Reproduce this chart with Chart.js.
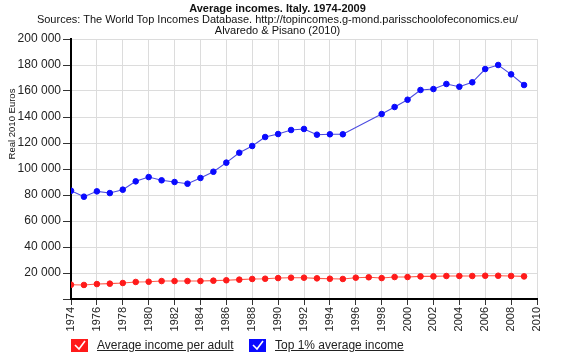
<!DOCTYPE html>
<html><head><meta charset="utf-8">
<script src="https://cdn.jsdelivr.net/npm/chart.js@4"></script>
<style>
html,body{margin:0;padding:0;background:#fff;}
#wrap{position:relative;width:573px;height:360px;font-family:"Liberation Sans",Arial,sans-serif;}
#c{position:absolute;left:0;top:0;}
.t{position:absolute;left:0;width:555px;text-align:center;color:#111;white-space:nowrap;}
#legend{position:absolute;top:337px;left:71px;font-size:12px;color:#222;}
.li{position:absolute;top:0;white-space:nowrap;}
.box{position:absolute;top:2px;width:17px;height:13px;}
.lt{position:absolute;top:1px;text-decoration:underline;}
</style></head>
<body>
<div id="wrap">
<canvas id="c" width="573" height="360"></canvas>
<div class="t" style="top:2px;font-size:11px;font-weight:bold;">Average incomes. Italy. 1974-2009</div>
<div class="t" style="top:13px;font-size:11px;">Sources: The World Top Incomes Database. http://topincomes.g-mond.parisschoolofeconomics.eu/</div>
<div class="t" style="top:24px;font-size:11px;">Alvaredo &amp; Pisano (2010)</div>
<div id="legend"></div>
</div>
<script>
const years = [1974,1975,1976,1977,1978,1979,1980,1981,1982,1983,1984,1985,1986,1987,1988,1989,1990,1991,1992,1993,1994,1995,1996,1997,1998,1999,2000,2001,2002,2003,2004,2005,2006,2007,2008,2009];
const averageIncome = [11000,10800,11500,11800,12300,13100,13300,13800,13800,13800,13800,14100,14400,14900,15400,15600,16100,16400,16400,15900,15600,15400,16400,16700,16100,16900,16900,17400,17400,17700,17700,17700,17900,17900,17700,17400];
const top1Income = [83300,78700,82800,81500,84100,90500,93800,91300,90000,88700,93100,97900,104900,112500,117700,124600,126900,130000,130800,126400,126700,126700,null,null,142300,147700,153300,160800,161500,165400,163300,166700,176900,180000,172800,164600];
const seriesNames = ["Average income per adult","Top 1% average income"];
const seriesColors = ["#ff1a1a","#0a0aff"];
const lineColors = ["#ff5a4a","#4a4ae0"];
const yTicksMax = 200000, yStep = 20000, xMin = 1974, xMax = 2010, xStep = 2;

function toXY(vals){ return years.map((y,i)=>({x:y,y:vals[i]})); }
function fmt(v){ return String(v).replace(/\B(?=(\d{3})+(?!\d))/g,' '); }

const yTitle = {
  id:'yTitle',
  afterDraw(chart){
    const ctx = chart.ctx;
    ctx.save();
    ctx.translate(12,124);
    ctx.rotate(-Math.PI/2);
    ctx.font = '9.5px "Liberation Sans", Arial, sans-serif';
    ctx.fillStyle = '#111';
    ctx.textAlign = 'center';
    ctx.textBaseline = 'middle';
    ctx.fillText('Real 2010 Euros',0,0);
    ctx.restore();
  }
};

new Chart(document.getElementById('c'), {
  type:'line',
  data:{datasets:[
    {label:seriesNames[0],data:toXY(averageIncome),borderColor:lineColors[0],backgroundColor:seriesColors[0],pointBackgroundColor:seriesColors[0],pointBorderColor:seriesColors[0],pointRadius:2.8,pointBorderWidth:1,borderWidth:1.1,spanGaps:true},
    {label:seriesNames[1],data:toXY(top1Income),borderColor:lineColors[1],backgroundColor:seriesColors[1],pointBackgroundColor:seriesColors[1],pointBorderColor:seriesColors[1],pointRadius:2.8,pointBorderWidth:1,borderWidth:1.1,spanGaps:true}
  ]},
  options:{
    responsive:false,animation:false,
    layout:{padding:{top:39,bottom:21,left:0,right:36}},
    plugins:{legend:{display:false},tooltip:{enabled:false},title:{display:false}},
    scales:{
      x:{type:'linear',min:xMin,max:xMax,
        afterFit(s){s.height=40;},
        ticks:{stepSize:xStep,minRotation:90,maxRotation:90,color:'#222',font:{size:11,family:'"Liberation Sans", Arial, sans-serif'},callback:v=>String(v),padding:2},
        grid:{color:'#dcdcdc',lineWidth:1,tickColor:'#333',tickLength:6},
        border:{color:'#000',width:2}
      },
      y:{min:0,max:yTicksMax,
        afterFit(s){s.width=71;},
        ticks:{stepSize:yStep,color:'#222',font:{size:12,family:'"Liberation Sans", Arial, sans-serif'},callback:v=>v===0?'':fmt(v),padding:2},
        grid:{color:'#dcdcdc',lineWidth:1,tickColor:'#333',tickLength:8},
        border:{color:'#000',width:2}
      }
    }
  },
  plugins:[yTitle]
});

const lg = document.getElementById('legend');
const pos = [0,178];
const check = '<svg width="17" height="13" viewBox="0 0 17 13"><polyline points="4,6 8,10 14,2" fill="none" stroke="#fff" stroke-width="1.6"/></svg>';
seriesNames.forEach((n,i)=>{
  const d = document.createElement('div');
  d.className='li';
  d.style.left = pos[i]+'px';
  d.innerHTML = '<div class="box" style="background:'+seriesColors[i]+';left:0">'+check+'</div><div class="lt" style="left:26px">'+n+'</div>';
  lg.appendChild(d);
});
</script>
</body></html>
